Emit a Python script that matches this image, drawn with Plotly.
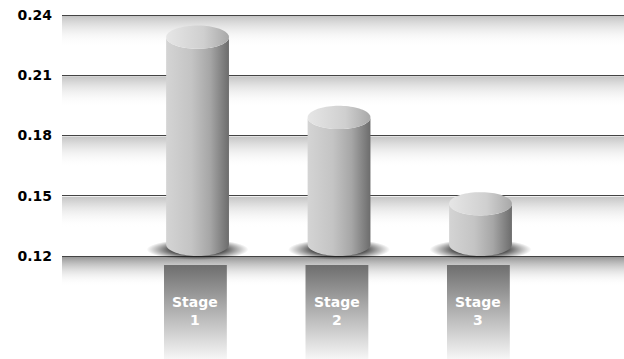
import numpy as np
import plotly.graph_objects as go

# ---- data ----
categories = ["Stage<br>1", "Stage<br>2", "Stage<br>3"]
values = [0.229, 0.189, 0.146]
tick_vals = [0.12, 0.15, 0.18, 0.21, 0.24]
tick_text = ["0.12", "0.15", "0.18", "0.21", "0.24"]

# ---- geometry / style ----
BASE = 0.12
HALF_W = 0.222
RY = 0.0058
Y_MIN, Y_MAX = 0.0687, 0.2475
X_MIN, X_MAX = -0.958, 3.014
FONT = "DejaVu Sans"

fig = go.Figure()

def add_fill(xs, ys, grad):
    fig.add_trace(go.Scatter(x=list(xs), y=list(ys), mode="none", fill="toself",
                             fillgradient=grad, hoverinfo="skip", showlegend=False))

# background bands below each gridline
for t in tick_vals:
    if t == BASE:
        top, bot = t - 0.0005, t - 0.0150
        cs = [[0, "rgba(255,255,255,0)"], [1, "rgba(150,150,150,1)"]]
    else:
        top, bot = t - 0.0005, t - 0.0160
        cs = [[0, "rgba(255,255,255,0)"], [1, "rgba(196,196,196,1)"]]
    add_fill([X_MIN, X_MAX, X_MAX, X_MIN, X_MIN], [top, top, bot, bot, top],
             dict(type="vertical", colorscale=cs))

theta = np.linspace(0, np.pi, 40)
full = np.linspace(0, 2 * np.pi, 80)

for i, v in enumerate(values):
    xc = i
    b = BASE + RY
    # shadow
    sx = xc + 0.36 * np.cos(full)
    sy = (BASE + 0.0032) + 0.0052 * np.sin(full)
    add_fill(sx, sy, dict(type="radial", colorscale=[[0, "rgba(0,0,0,1)"], [0.45, "rgba(0,0,0,0.8)"],
                                                   [0.75, "rgba(0,0,0,0.35)"], [1, "rgba(0,0,0,0)"]]))
    # body
    xs = [xc - HALF_W, xc - HALF_W]
    ys = [b, v]
    xs += list(xc - HALF_W * np.cos(theta))
    ys += list(v - RY * np.sin(theta))
    xs += [xc + HALF_W, xc + HALF_W]
    ys += [v, b]
    xs += list(xc + HALF_W * np.cos(theta))
    ys += list(b - RY * np.sin(theta))
    add_fill(xs, ys, dict(type="horizontal",
                          colorscale=[[0, "#d4d4d4"], [0.4, "#c4c4c4"], [0.7, "#a6a6a6"], [1, "#6c6c6c"]]))
    # top ellipse
    add_fill(xc + HALF_W * np.cos(full), v + RY * np.sin(full),
             dict(type="horizontal", colorscale=[[0, "#e6e6e6"], [0.6, "#cfcfcf"], [1, "#a8a8a8"]]))
    # label box
    add_fill([xc - HALF_W - 0.015, xc + HALF_W - 0.015, xc + HALF_W - 0.015, xc - HALF_W - 0.015, xc - HALF_W - 0.015],
             [0.1155, 0.1155, Y_MIN, Y_MIN, 0.1155],
             dict(type="vertical", colorscale=[[0, "#f6f6f6"], [1, "#6e6e6e"]]))
    fig.add_annotation(x=xc - 0.015, y=0.0926, text=categories[i], showarrow=False,
                       font=dict(family=FONT, size=14, color="white", weight="bold"),
                       xanchor="center", yanchor="middle")

fig.update_layout(
    width=624, height=359,
    margin=dict(l=62, r=0, t=0, b=0),
    paper_bgcolor="white", plot_bgcolor="white",
    hovermode=False, showlegend=False,
    xaxis=dict(range=[X_MIN, X_MAX], visible=False, fixedrange=True),
    yaxis=dict(range=[Y_MIN, Y_MAX], tickvals=tick_vals, ticktext=tick_text,
               showgrid=True, gridcolor="#444444", gridwidth=1, zeroline=False, showline=False,
               ticks="", ticklabelstandoff=9,
               tickfont=dict(family=FONT, size=14, color="black", weight="bold"),
               fixedrange=True),
)

fig.write_html("out.html")
